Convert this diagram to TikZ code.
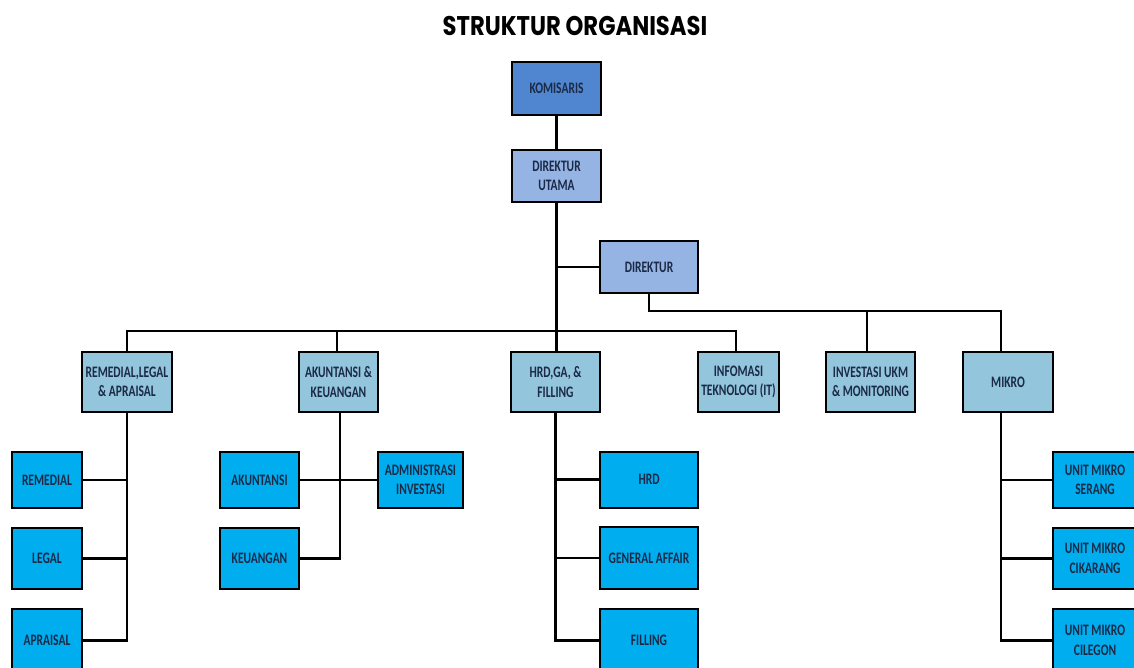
\documentclass[tikz,border=0pt]{standalone}
\usepackage{fontspec}
\newfontfamily\boxfont[FakeStretch=0.72]{Carlito}
\newfontfamily\titlefont[FakeStretch=0.84]{Poppins}
\definecolor{navy}{HTML}{1B2A47}
\definecolor{lvlA}{HTML}{4F86CF}
\definecolor{lvlB}{HTML}{95B4E3}
\definecolor{lvlC}{HTML}{93C5DC}
\definecolor{lvlD}{HTML}{00ADEF}
\tikzset{
  box/.style={draw=black, line width=2pt, rectangle, inner sep=1pt, align=center, text=navy,
    font=\boxfont\bfseries\fontsize{16}{19.5}\selectfont},
  topbox/.style={box, fill=lvlA},
  dirbox/.style={box, fill=lvlB},
  divbox/.style={box, fill=lvlC},
  unitbox/.style={box, fill=lvlD},
  link/.style={draw=black, line width=2.2pt}
}
\begin{document}
\begin{tikzpicture}[x=1pt,y=-1pt]
\useasboundingbox[fill=white] (0,0) rectangle (1134,667);
\node[font=\titlefont\bfseries\fontsize{27}{30}\selectfont, text=black, inner sep=0] (title) at (575,26) {STRUKTUR ORGANISASI};

% top levels
\node[topbox, minimum width=89pt, minimum height=53pt] (kom) at (556.5,88.5) {KOMISARIS};
\node[dirbox, minimum width=89pt, minimum height=52pt] (du) at (556.5,176) {DIREKTUR\\UTAMA};
\node[dirbox, minimum width=98pt, minimum height=52pt] (dir) at (649,267) {DIREKTUR};

% divisions
\node[divbox, minimum width=90pt, minimum height=60pt] (rla) at (127,382) {REMEDIAL,LEGAL\\\& APRAISAL};
\node[divbox, minimum width=79pt, minimum height=60pt] (ak) at (338.5,382) {AKUNTANSI \&\\KEUANGAN};
\node[divbox, minimum width=89pt, minimum height=60pt] (hga) at (555.5,382) {HRD,GA, \&\\FILLING};
\node[divbox, minimum width=81pt, minimum height=60pt] (it) at (738.5,382) {INFOMASI\\TEKNOLOGI (IT)};
\node[divbox, minimum width=89pt, minimum height=60pt] (ukm) at (870.5,382) {INVESTASI UKM\\\& MONITORING};
\node[divbox, minimum width=90pt, minimum height=60pt] (mik) at (1008,382) {MIKRO};

% units
\node[unitbox, minimum width=70pt, minimum height=56pt] (rem) at (47,480) {REMEDIAL};
\node[unitbox, minimum width=70pt, minimum height=61pt] (leg) at (47,558.5) {LEGAL};
\node[unitbox, minimum width=70pt, minimum height=63pt] (apr) at (47,640.5) {APRAISAL};

\node[unitbox, minimum width=79pt, minimum height=56pt] (akn) at (259.5,480) {AKUNTANSI};
\node[unitbox, minimum width=79pt, minimum height=61pt] (keu) at (259.5,558.5) {KEUANGAN};
\node[unitbox, minimum width=85pt, minimum height=56pt] (adm) at (420.5,480) {ADMINISTRASI\\INVESTASI};

\node[unitbox, minimum width=98pt, minimum height=56pt] (hrd) at (649,479.5) {HRD};
\node[unitbox, minimum width=98pt, minimum height=62pt] (ga) at (649,558) {GENERAL AFFAIR};
\node[unitbox, minimum width=98pt, minimum height=63pt] (fil) at (649,640.5) {FILLING};

\node[unitbox, minimum width=84pt, minimum height=56pt] (srg) at (1095,480) {UNIT MIKRO\\SERANG};
\node[unitbox, minimum width=84pt, minimum height=61pt] (ckr) at (1095,558.5) {UNIT MIKRO\\CIKARANG};
\node[unitbox, minimum width=84pt, minimum height=63pt] (clg) at (1095,640.5) {UNIT MIKRO\\CILEGON};

% bus coordinates
\coordinate (lbus) at (0,331);
\coordinate (rbus) at (0,311);
\coordinate (ukmtop) at ([xshift=-3.5pt]ukm.north);
\coordinate (miktop) at ([xshift=-7pt]mik.north);
\coordinate (mikbot) at ([xshift=-7pt]mik.south);
\coordinate (aktop) at ([xshift=-1.5pt]ak.north);
\coordinate (akbot) at ([xshift=1.5pt]ak.south);
\coordinate (ittop) at ([xshift=-2.5pt]it.north);

% connectors
\draw[link] (kom.south) -- (du.north);
\draw[link] (du.south) -- (du.south |- hga.north);
\draw[link] (du.south |- dir.west) -- (dir.west);
\draw[link] (dir.south) -- (dir.south |- rbus) -- (miktop |- rbus) -- (miktop);
\draw[link] (ukmtop |- rbus) -- (ukmtop);
\draw[link] (rla.north) -- (rla.north |- lbus) -- (ittop |- lbus) -- (ittop);
\draw[link] (aktop |- lbus) -- (aktop);

\draw[link] (rla.south) -- (rla.south |- apr.east) -- (apr.east);
\draw[link] (rem.east) -- (rem.east -| rla.south);
\draw[link] (leg.east) -- (leg.east -| rla.south);

\draw[link] (akbot) -- (akbot |- keu.east) -- (keu.east);
\draw[link] (akn.east) -- (adm.west);

\draw[link] (hga.south) -- (hga.south |- fil.west) -- (fil.west);
\draw[link] (hrd.west) -- (hrd.west -| hga.south);
\draw[link] (ga.west) -- (ga.west -| hga.south);

\draw[link] (mikbot) -- (mikbot |- clg.west) -- (clg.west);
\draw[link] (srg.west) -- (srg.west -| mikbot);
\draw[link] (ckr.west) -- (ckr.west -| mikbot);
\end{tikzpicture}
\end{document}
